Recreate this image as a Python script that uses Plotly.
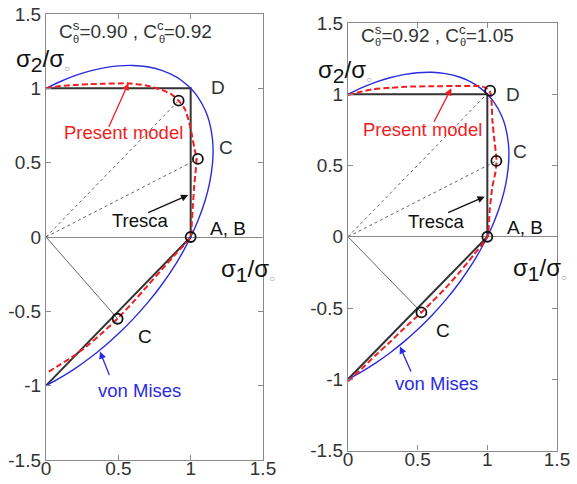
import plotly.graph_objects as go

FONT = "Liberation Sans, Arial, sans-serif"

# ---- yield loci in the (sigma1/sigma0, sigma2/sigma0) plane ----
# Tresca edges
tresca_x = [0, 1, 1, 0]
tresca_y = [1, 1, 0, -1]

# von Mises ellipse, sigma1 >= 0 half
mises_x = [0, 0.1, 0.2, 0.3, 0.4, 0.5, 0.6, 0.7, 0.8, 0.9, 0.95, 1.0, 1.05, 1.1, 1.13, 1.15,
           1.155, 1.15, 1.13, 1.1, 1.05, 1.0, 0.95, 0.9, 0.8, 0.7, 0.6, 0.5, 0.4, 0.3, 0.2, 0.1, 0]
mises_y = [1, 1.046, 1.085, 1.116, 1.138, 1.151, 1.154, 1.145, 1.121, 1.077, 1.043, 1.0, 0.941,
           0.854, 0.771, 0.665, 0.577, 0.485, 0.359, 0.246, 0.109, 0.0, -0.093, -0.177, -0.321,
           -0.445, -0.554, -0.651, -0.738, -0.816, -0.885, -0.946, -1]

# Present model, Cs=0.90, Cc=0.92
model_a_x = [0, 0.1, 0.2, 0.3, 0.4, 0.5, 0.58, 0.7, 0.8, 0.87, 0.917, 0.96, 0.99, 1.01, 1.025,
             1.04, 1.035, 1.025, 1.016, 1.008, 1.0, 0.9, 0.8, 0.7, 0.6, 0.495, 0.4, 0.3, 0.2, 0.1, 0]
model_a_y = [1.0, 1.015, 1.023, 1.028, 1.031, 1.033, 1.033, 1.018, 0.99, 0.958, 0.917, 0.86,
             0.77, 0.68, 0.6, 0.53, 0.45, 0.35, 0.22, 0.1, 0.0, -0.11, -0.22, -0.33, -0.44,
             -0.548, -0.635, -0.72, -0.795, -0.857, -0.917]

# Present model, Cs=0.92, Cc=1.05
model_b_x = [0, 0.1, 0.18, 0.3, 0.42, 0.6, 0.8, 0.945, 0.99, 1.017, 1.03, 1.036, 1.048, 1.06,
             1.066, 1.058, 1.036, 1.017, 1.0, 0.9, 0.8, 0.7, 0.6, 0.527, 0.4, 0.3, 0.2, 0.1, 0]
model_b_y = [0.995, 1.02, 1.035, 1.045, 1.053, 1.056, 1.058, 1.057, 1.045, 1.025, 0.95, 0.82,
             0.7, 0.6, 0.532, 0.45, 0.351, 0.188, 0.0, -0.13, -0.25, -0.36, -0.46, -0.531,
             -0.645, -0.74, -0.83, -0.925, -1.015]

# calibration points D, C (plane strain), A/B (uniaxial), C (shear)
pts_a_x = [0.917, 1.05, 1.0, 0.495]
pts_a_y = [0.917, 0.525, 0.0, -0.55]
pts_b_x = [1.02, 1.065, 1.0, 0.527]
pts_b_y = [1.025, 0.532, 0.0, -0.531]

coef_a = ("0.90", "0.92")
coef_b = ("0.92", "1.05")

BLUE = "#2b2bdf"
RED = "#f01e23"
DARK = "#333333"
FRAME = "#8a8a8a"

fig = go.Figure()


def add_panel(n, mx, my, px, py):
    xa, ya = ("x", "y") if n == 1 else ("x2", "y2")
    # rays from the origin to the calibration points
    for i, dash in ((0, "dot"), (1, "dot"), (3, "solid")):
        fig.add_trace(go.Scatter(x=[0, px[i]], y=[0, py[i]], mode="lines",
                                 line=dict(color="#555555", width=0.9, dash=dash),
                                 xaxis=xa, yaxis=ya, hoverinfo="skip"))
    fig.add_trace(go.Scatter(x=tresca_x, y=tresca_y, mode="lines",
                             line=dict(color=DARK, width=2), xaxis=xa, yaxis=ya))
    fig.add_trace(go.Scatter(x=mises_x, y=mises_y, mode="lines",
                             line=dict(color=BLUE, width=1.4, shape="spline", smoothing=0.8),
                             xaxis=xa, yaxis=ya))
    fig.add_trace(go.Scatter(x=mx, y=my, mode="lines",
                             line=dict(color=RED, width=2, dash="6px,3px",
                                       shape="spline", smoothing=0.6),
                             xaxis=xa, yaxis=ya))
    fig.add_trace(go.Scatter(x=px, y=py, mode="markers",
                             marker=dict(symbol="circle-open", size=10, color="#111111",
                                         line=dict(width=1.8, color="#111111")),
                             xaxis=xa, yaxis=ya))


add_panel(1, model_a_x, model_a_y, pts_a_x, pts_a_y)
add_panel(2, model_b_x, model_b_y, pts_b_x, pts_b_y)


def axis_style(rng, vals, texts, domain, anchor, zero, standoff=0):
    return dict(range=rng, tickvals=vals, ticktext=texts, domain=domain, anchor=anchor,
                ticks="inside", ticklen=5, tickwidth=1, tickcolor=FRAME,
                showline=True, linecolor=FRAME, linewidth=1.3, mirror="ticks",
                showgrid=False, zeroline=zero, zerolinecolor=FRAME, zerolinewidth=1.3,
                tickfont=dict(family=FONT, size=19, color=DARK), fixedrange=True,
                automargin=False, ticklabelstandoff=standoff)


xv = [0, 0.5, 1, 1.5]
xt = ["0", "0.5", "1", "1.5"]
yv = [-1.5, -1, -0.5, 0, 0.5, 1, 1.5]
yt = ["-1.5", "-1", "-0.5", "0", "0.5", "1", "1.5"]

annotations = []


def text(s, x, y, n, size=19, color="#222222", ref=None, **kw):
    if ref == "paper":
        xr, yr = "paper", "paper"
    else:
        xr, yr = ("x", "y") if n == 1 else ("x2", "y2")
    d = dict(text=s, x=x, y=y, xref=xr, yref=yr,
             showarrow=False, font=dict(family=FONT, size=size, color=color),
             xanchor="center", yanchor="middle")
    d.update(kw)
    annotations.append(d)


def arrow(x, y, ax, ay, n, color):
    xr, yr = ("x", "y") if n == 1 else ("x2", "y2")
    annotations.append(dict(text="", x=x, y=y, ax=ax, ay=ay, xref=xr, yref=yr,
                            axref=xr, ayref=yr, showarrow=True, arrowhead=2,
                            arrowsize=1.1, arrowwidth=1.3, arrowcolor=color,
                            standoff=0, startstandoff=0))


S2 = ("σ<sub><span style='font-size:21px'>2</span></sub>/σ"
      "<sub><span style='font-size:10px;fill:#999999'>○</span></sub>")
S1 = ("σ<sub><span style='font-size:21px'>1</span></sub>/σ"
      "<sub><span style='font-size:10px;fill:#999999'>○</span></sub>")

panels = [
    dict(n=1, coef=coef_a, title=(0.622, 1.39), th=(0.207, 0.80, 1.335),
         s2=(43 / 577, 1 - 60 / 484), s1=(1.396, -0.222),
         pm=(0.539, 0.704), pm_arrow=(0.57, 1.035, 0.43, 0.731),
         tr=(0.65, 0.112), tr_arrow=(0.983, 0.282, 0.696, 0.159),
         ab=(1.258, 0.06), d=(1.19, 1.005), c1=(1.244, 0.605), c2=(0.684, -0.672),
         vm=(0.644, -1.031), vm_arrow=(0.373, -0.771, 0.442, -0.939)),
    dict(n=2, coef=coef_b, title=(0.642, 1.42), th=(0.217, 0.822, 1.37),
         s2=(344.5 / 577, 1 - 71 / 484), s1=(1.378, -0.233),
         pm=(0.533, 0.75), pm_arrow=(0.742, 1.042, 0.612, 0.796),
         tr=(0.635, 0.105), tr_arrow=(0.981, 0.281, 0.708, 0.165),
         ab=(1.268, 0.065), d=(1.185, 0.995), c1=(1.233, 0.597), c2=(0.682, -0.655),
         vm=(0.635, -1.03), vm_arrow=(0.373, -0.77, 0.457, -0.957)),
]

for p in panels:
    n = p["n"]
    cs, cc = p["coef"]
    text(f"C<sup>s</sup>={cs} , C<sup>c</sup>={cc}", *p["title"], n, color=DARK)
    text("θ", p["th"][0], p["th"][2], n, size=11, color=DARK)
    text("θ", p["th"][1], p["th"][2], n, size=11, color=DARK)
    text(S2, *p["s2"], n, size=24, color="#111111", ref="paper")
    text(S1, *p["s1"], n, size=24, color="#111111")
    text("Present model", *p["pm"], n, size=18.5, color=RED)
    arrow(*p["pm_arrow"], n, RED)
    text("Tresca", *p["tr"], n, size=18.5, color="#111111")
    arrow(*p["tr_arrow"], n, "#111111")
    text("A, B", *p["ab"], n, color="#111111")
    text("D", *p["d"], n, color=DARK)
    text("C", *p["c1"], n, color=DARK)
    text("C", *p["c2"], n, color="#111111")
    text("von Mises", *p["vm"], n, size=18.5, color=BLUE)
    arrow(*p["vm_arrow"], n, BLUE)

fig.update_layout(
    width=577, height=484, margin=dict(l=0, r=0, t=0, b=0, pad=0, autoexpand=False),
    paper_bgcolor="white", plot_bgcolor="white", showlegend=False,
    font=dict(family=FONT),
    xaxis=axis_style([0, 1.5], xv, xt, [46 / 577, 263 / 577], "y", False, -9),
    yaxis=axis_style([-1.5, 1.5], yv, yt, [1 - 460 / 484, 1 - 14 / 484], "x", True),
    xaxis2=axis_style([0, 1.5], xv, xt, [348 / 577, 557 / 577], "y2", False, -8),
    yaxis2=axis_style([-1.5, 1.5], yv, yt, [1 - 450.5 / 484, 1 - 23 / 484], "x2", True),
    annotations=annotations,
)

fig.write_html("out.html")
